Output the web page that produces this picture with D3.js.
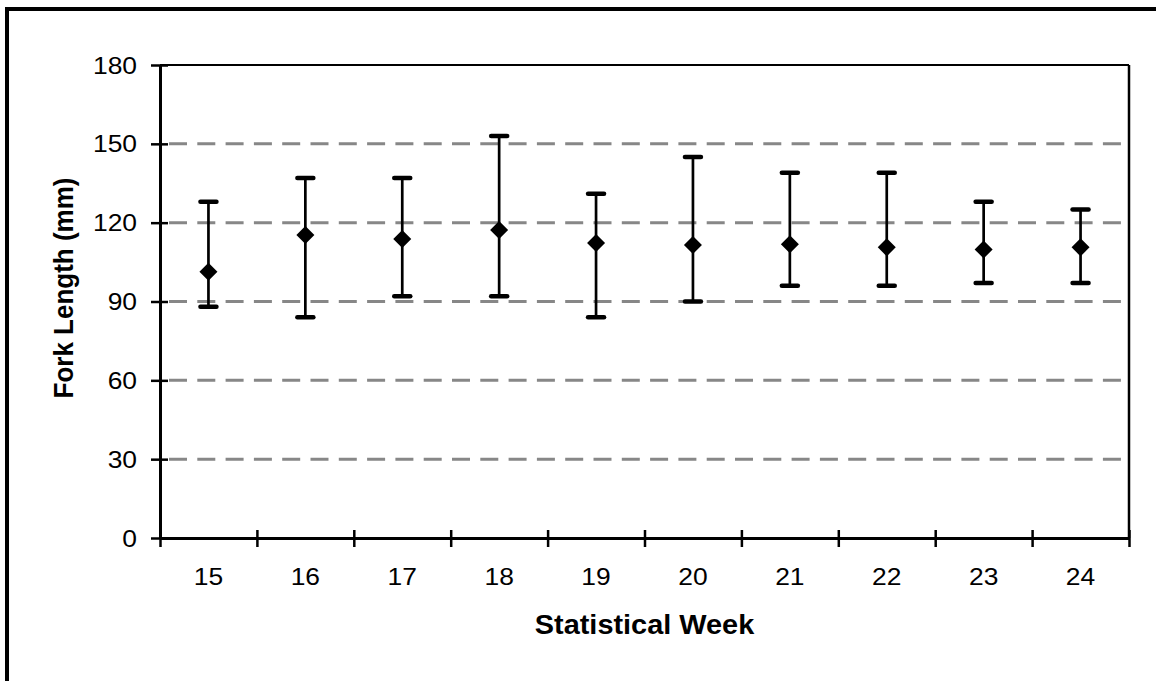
<!DOCTYPE html>
<html><head><meta charset="utf-8">
<script src="https://cdn.jsdelivr.net/npm/d3@7"></script>
<style>
html,body{margin:0;padding:0;background:#fff;}
svg{display:block;}
text{font-family:"Liberation Sans",Arial,sans-serif;fill:#000;}
</style></head>
<body>
<svg id="chart" width="1156" height="681"></svg>
<script>
const weeks = [15, 16, 17, 18, 19, 20, 21, 22, 23, 24];
const meanLength = [101.3, 115.3, 113.8, 117.2, 112.3, 111.5, 111.8, 110.6, 109.8, 110.6];
const minLength = [88, 84, 92, 92, 84, 90, 96, 96, 97, 97];
const maxLength = [128, 137, 137, 153, 131, 145, 139, 139, 128, 125];
const yTicks = [0, 30, 60, 90, 120, 150, 180];
const xTitle = "Statistical Week";
const yTitle = "Fork Length (mm)";

const svg = d3.select("#chart");
const L = 160, R = 1129, T = 65, B = 538;
const SX = 1.1;

// outer frame
svg.append("rect").attr("x", 7).attr("y", 9).attr("width", 1170).attr("height", 700)
  .attr("fill", "none").attr("stroke", "#000").attr("stroke-width", 4);

const x = d3.scaleLinear().domain([14.5, 24.5]).range([L, R]);
const y = d3.scaleLinear().domain([0, 180]).range([B, T]);

// gridlines
svg.append("g").selectAll("line").data(yTicks.filter(v => v > 0 && v < 180)).join("line")
  .attr("x1", L + 9).attr("x2", R).attr("y1", d => y(d)).attr("y2", d => y(d))
  .attr("stroke", "#878787").attr("stroke-width", 3).attr("stroke-dasharray", "18,10.3");

// plot border top/right
svg.append("line").attr("x1", L).attr("x2", R).attr("y1", T).attr("y2", T)
  .attr("stroke", "#000").attr("stroke-width", 2);
svg.append("line").attr("x1", R).attr("x2", R).attr("y1", T).attr("y2", B)
  .attr("stroke", "#000").attr("stroke-width", 2.5);

// axes
const xBounds = d3.range(14.5, 25, 1);
const gx = svg.append("g").attr("transform", `translate(0,${B})`)
  .call(d3.axisBottom(x).tickValues(xBounds).tickFormat("").tickSizeInner(9).tickSizeOuter(0));
const gx2 = svg.append("g").attr("transform", `translate(0,${B})`)
  .call(d3.axisBottom(x).tickValues(xBounds).tickFormat("").tickSizeInner(-8).tickSizeOuter(0));
const gy = svg.append("g").attr("transform", `translate(${L},0)`)
  .call(d3.axisLeft(y).tickValues(yTicks).tickFormat("").tickSizeInner(9).tickSizeOuter(0));
const gy2 = svg.append("g").attr("transform", `translate(${L},0)`)
  .call(d3.axisLeft(y).tickValues(yTicks).tickFormat("").tickSizeInner(-8).tickSizeOuter(0));
[gx, gx2, gy, gy2].forEach(g => {
  g.selectAll("path").attr("stroke", "#000").attr("stroke-width", 3);
  g.selectAll("line").attr("stroke", "#000").attr("stroke-width", 2.5);
});

// tick labels
svg.append("g").selectAll("text").data(yTicks).join("text")
  .attr("transform", d => `translate(137,${y(d)}) scale(${SX},1)`)
  .attr("dy", "0.36em").attr("text-anchor", "end").attr("font-size", 24)
  .text(d => d);
svg.append("g").selectAll("text").data(weeks).join("text")
  .attr("transform", d => `translate(${x(d)},585) scale(${SX},1)`)
  .attr("text-anchor", "middle").attr("font-size", 24)
  .text(d => d);

// axis titles
svg.append("text").attr("transform", `translate(${(L + R) / 2},634) scale(1.07,1)`)
  .attr("text-anchor", "middle").attr("font-size", 27).attr("font-weight", "bold").text(xTitle);
svg.append("text").attr("transform", `translate(73,288) scale(1.08,1) rotate(-90)`)
  .attr("text-anchor", "middle").attr("font-size", 26).attr("font-weight", "bold").text(yTitle);

// error bars
const data = weeks.map((w, i) => ({ w, m: meanLength[i], lo: minLength[i], hi: maxLength[i] }));
const eb = svg.append("g");
eb.selectAll("line.stem").data(data).join("line").attr("class", "stem")
  .attr("x1", d => x(d.w)).attr("x2", d => x(d.w))
  .attr("y1", d => y(d.hi)).attr("y2", d => y(d.lo))
  .attr("stroke", "#000").attr("stroke-width", 2.7);
["hi", "lo"].forEach(k => {
  eb.selectAll("line.cap" + k).data(data).join("line").attr("class", "cap" + k)
    .attr("x1", d => x(d.w) - 8).attr("x2", d => x(d.w) + 8)
    .attr("y1", d => y(d[k])).attr("y2", d => y(d[k]))
    .attr("stroke", "#000").attr("stroke-width", 4.5).attr("stroke-linecap", "round");
});
// diamonds
eb.selectAll("path.dia").data(data).join("path").attr("class", "dia")
  .attr("d", d => {
    const cx = x(d.w), cy = y(d.m), h = 9;
    return `M${cx},${cy - h}L${cx + h},${cy}L${cx},${cy + h}L${cx - h},${cy}Z`;
  })
  .attr("fill", "#000");
</script>
</body></html>
